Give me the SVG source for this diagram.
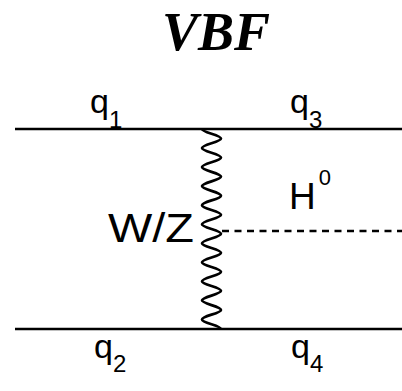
<svg xmlns="http://www.w3.org/2000/svg" width="402" height="391" viewBox="0 0 402 391">
<style>
.line{stroke:#000;stroke-width:2.6;fill:none}
.dash{stroke:#000;stroke-width:2.5;fill:none;stroke-dasharray:7,5.5}
.wave{stroke:#000;stroke-width:2.7;fill:none;stroke-linejoin:round}
.lbl{font-family:"Liberation Sans",Arial,sans-serif;fill:#000}
.title{font-family:"Liberation Serif","Times New Roman",serif;font-weight:bold;font-style:italic;font-size:54px;fill:#000}
</style>
<rect width="402" height="391" fill="#fff"/>
<text class="title" x="216" y="50" text-anchor="middle">VBF</text>
<g id="connectors">
<line class="line" x1="15" y1="129" x2="402" y2="129"/>
<line class="line" x1="15" y1="329" x2="402" y2="329"/>
<line class="dash" x1="222" y1="231" x2="402" y2="231"/>
<path class="wave" d="M202,129 c0,3.47 19,6.06 19,9.52 c0,3.47 -19,6.06 -19,9.52 c0,3.47 19,6.06 19,9.52 c0,3.47 -19,6.06 -19,9.52 c0,3.47 19,6.06 19,9.52 c0,3.47 -19,6.06 -19,9.52 c0,3.47 19,6.06 19,9.52 c0,3.47 -19,6.06 -19,9.52 c0,3.47 19,6.06 19,9.52 c0,3.47 -19,6.06 -19,9.52 c0,3.47 19,6.06 19,9.52 c0,3.47 -19,6.06 -19,9.52 c0,3.47 19,6.06 19,9.52 c0,3.47 -19,6.06 -19,9.52 c0,3.47 19,6.06 19,9.52 c0,3.47 -19,6.06 -19,9.52 c0,3.47 19,6.06 19,9.52 c0,3.47 -19,6.06 -19,9.52 c0,3.47 19,6.06 19,9.52 c0,3.47 -19,6.06 -19,9.52 c0,3.47 19,6.06 19,9.52"/>
</g>
<g id="q1"><text class="lbl" x="90" y="113" font-size="34">q<tspan font-size="24" dy="15">1</tspan></text></g>
<g id="q3"><text class="lbl" x="290" y="113" font-size="34">q<tspan font-size="24" dy="15">3</tspan></text></g>
<g id="q2"><text class="lbl" x="94" y="358" font-size="34">q<tspan font-size="24" dy="14">2</tspan></text></g>
<g id="q4"><text class="lbl" x="291" y="358" font-size="34">q<tspan font-size="24" dy="14">4</tspan></text></g>
<g id="H0"><text class="lbl" x="289" y="209" font-size="37">H<tspan font-size="22" dx="3" dy="-24">0</tspan></text></g>
<g id="WZ"><text class="lbl" x="108" y="242" font-size="40" textLength="86" lengthAdjust="spacingAndGlyphs">W/Z</text></g>
</svg>
